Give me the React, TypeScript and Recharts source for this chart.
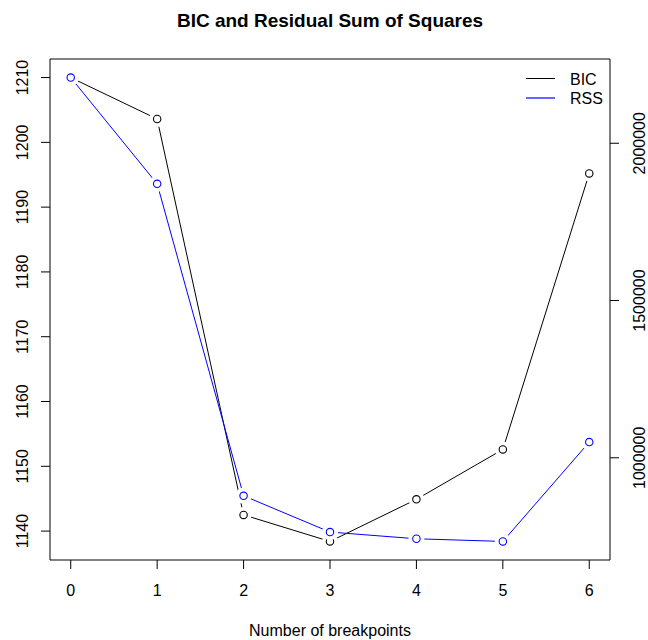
import React from "react";
import { LineChart, Line, XAxis, YAxis } from "recharts";

const BREAKPOINTS = [0, 1, 2, 3, 4, 5, 6];
const BIC = [1210.0, 1203.6, 1142.5, 1138.4, 1144.9, 1152.6, 1195.2];
const RSS = [2208900, 1870900, 879200, 763800, 742500, 734000, 1049900];

const X_TICKS = [0, 1, 2, 3, 4, 5, 6];
const BIC_TICKS = [1140, 1150, 1160, 1170, 1180, 1190, 1200, 1210];
const RSS_TICKS = [1000000, 1500000, 2000000];

const FONT = "'Liberation Sans', Arial, Helvetica, sans-serif";

// R pads every axis range by 4% on each side
const pad = (vals: number[]): [number, number] => {
  const lo = Math.min(...vals);
  const hi = Math.max(...vals);
  const r = hi - lo;
  return [lo - 0.04 * r, hi + 0.04 * r];
};

const data = BREAKPOINTS.map((x, i) => ({ x, bic: BIC[i], rss: RSS[i] }));

const makeDot = (color: string) => (props: any) => {
  const { cx, cy, index } = props;
  return (
    <g key={`${color}-${index}`}>
      <circle cx={cx} cy={cy} r={8} fill="#fff" />
      <circle cx={cx} cy={cy} r={3.7} fill="none" stroke={color} strokeWidth={1.1} />
    </g>
  );
};

const XTick = ({ x, y, payload }: any) => (
  <text x={x} y={y} textAnchor="middle" fontSize={16} fontFamily={FONT} fill="#000">
    {payload.value}
  </text>
);

const VTick = ({ x, y, payload }: any) => (
  <text
    x={x}
    y={y}
    transform={`rotate(-90, ${x}, ${y})`}
    textAnchor="middle"
    fontSize={16}
    fontFamily={FONT}
    fill="#000"
  >
    {payload.value}
  </text>
);

export default function App() {
  return (
    <div style={{ position: "absolute", left: 0, top: 0, width: 648, height: 640, background: "#fff" }}>
      <LineChart
        width={648}
        height={640}
        data={data}
        margin={{ top: 58, right: 0, bottom: 0, left: 0 }}
      >
        <XAxis
          xAxisId="b"
          dataKey="x"
          type="number"
          domain={pad(BREAKPOINTS)}
          ticks={X_TICKS}
          height={80}
          tickSize={9}
          tickMargin={27}
          stroke="#000"
          tick={<XTick />}
        />
        <XAxis
          xAxisId="t"
          orientation="top"
          dataKey="x"
          type="number"
          domain={pad(BREAKPOINTS)}
          ticks={X_TICKS}
          height={1}
          tick={false}
          tickLine={false}
          axisLine={{ stroke: "#000" }}
        />
        <YAxis
          yAxisId="bic"
          type="number"
          domain={pad(BIC)}
          ticks={BIC_TICKS}
          width={50}
          tickSize={9}
          tickMargin={13}
          stroke="#000"
          tick={<VTick />}
        />
        <YAxis
          yAxisId="rss"
          orientation="right"
          type="number"
          domain={pad(RSS)}
          ticks={RSS_TICKS}
          width={38}
          tickSize={9}
          tickMargin={26}
          stroke="#000"
          tick={<VTick />}
        />
        <Line
          xAxisId="b"
          yAxisId="bic"
          dataKey="bic"
          type="linear"
          stroke="#000"
          strokeWidth={1}
          dot={makeDot("#000")}
          isAnimationActive={false}
        />
        <Line
          xAxisId="b"
          yAxisId="rss"
          dataKey="rss"
          type="linear"
          stroke="#0000ff"
          strokeWidth={1}
          dot={makeDot("#0000ff")}
          isAnimationActive={false}
        />
      </LineChart>
      <svg
        width={648}
        height={640}
        style={{ position: "absolute", left: 0, top: 0, pointerEvents: "none" }}
      >
        <text x={330} y={27} textAnchor="middle" fontSize={19} fontWeight="bold" fontFamily={FONT}>
          BIC and Residual Sum of Squares
        </text>
        <text x={330} y={636} textAnchor="middle" fontSize={16} fontFamily={FONT}>
          Number of breakpoints
        </text>
        <line x1={526} x2={555} y1={78.5} y2={78.5} stroke="#000000" strokeWidth={1} />
        <text x={570} y={84.5} fontSize={16} fontFamily={FONT}>BIC</text>
        <line x1={526} x2={555} y1={98} y2={98} stroke="#0000ff" strokeWidth={1.2} />
        <text x={570} y={104} fontSize={16} fontFamily={FONT}>RSS</text>
      </svg>
    </div>
  );
}
